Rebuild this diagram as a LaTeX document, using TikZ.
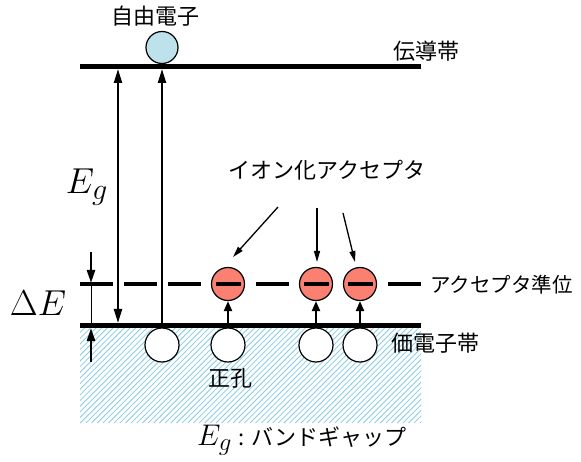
\documentclass[tikz,border=0pt]{standalone}
\usepackage{graphicx}
\usepackage{fontspec}
\newfontfamily\jp{Noto Sans CJK JP}
\usetikzlibrary{arrows.meta}
\definecolor{elec}{RGB}{190,226,236}
\definecolor{accep}{RGB}{250,128,114}
\definecolor{hatchc}{RGB}{135,205,230}
\tikzset{
  band/.style={line width=5pt},
  bigarrow/.style={line width=2.2pt,-{Triangle[length=14pt,width=8pt]}},
  labarrow/.style={line width=1.3pt,-{Triangle[length=11pt,width=6pt]}},
  holec/.style={circle,draw,line width=1.2pt,fill=white,minimum size=34pt,inner sep=0pt},
  accc/.style={circle,draw,line width=1.2pt,fill=accep,minimum size=33pt,inner sep=0pt},
  elecc/.style={circle,draw,line width=1.2pt,fill=elec,minimum size=32pt,inner sep=0pt},
  jlab/.style={font=\jp\fontsize{22pt}{24pt}\selectfont,inner sep=0pt},
  mlab/.style={font=\Huge,inner sep=0pt},
  hatchline/.style={draw=hatchc,line width=0.8pt},
}
\begin{document}
\begin{tikzpicture}[x=1pt,y=-1pt]
\useasboundingbox (0,0) rectangle (581,462);
% hatched valence region
\begin{scope}
  \clip (80,328) rectangle (421,423);
  \foreach \i in {-16,-10.34,...,425}{
    \draw[hatchline] (\i,423) -- ++(95,-95);
  }
\end{scope}
% bands
\coordinate (cbL) at (80,66.5); \coordinate (cbR) at (421,66.5);
\coordinate (vbL) at (80,325.5); \coordinate (vbR) at (421,325.5);
\coordinate (alL) at (80,284); \coordinate (alR) at (421,284);
\draw[band] (cbL) -- (cbR);
\draw[band] (vbL) -- (vbR);
\draw[line width=4pt,dash pattern=on 33pt off 11pt] (alL) -- (alR);
% free electron
\node[elecc] (e) at (162,47.5) {};
\node[jlab] (elab) at (155,16) {自由電子};
\node[jlab,anchor=west] (cblab) at (393,51) {伝導帯};
% Eg arrows
\coordinate (g1t) at (118,69); \coordinate (g1b) at (118,323);
\draw[line width=2.2pt,{Triangle[length=14pt,width=8pt]}-{Triangle[length=14pt,width=8pt]}] (g1t) -- (g1b);
\coordinate (g2t) at (162,69); \coordinate (g2b) at (162,325);
\draw[bigarrow] (g2b) -- (g2t);
\node[mlab] (eg) at (87,187) {\scalebox{1.45}{$E_g$}};
% Delta E
\coordinate (d1s) at (91,252); \coordinate (d1e) at (91,283);
\coordinate (d2s) at (91,362); \coordinate (d2e) at (91,328);
\draw[line width=2.5pt,-{Triangle[length=13pt,width=8pt]}] (d1s) -- (d1e);
\draw[line width=2.5pt,-{Triangle[length=13pt,width=8pt]}] (d2s) -- (d2e);
\draw[line width=1pt] (d1e) -- (d2e);
\node[mlab] (de) at (38,303) {\scalebox{1.45}{$\Delta E$}};
% holes
\node[holec] (h0) at (162,345) {};
\node[holec] (h1) at (228,345) {};
\node[holec] (h2) at (316,345) {};
\node[holec] (h3) at (360,345) {};
% acceptors
\foreach \n/\x in {a1/228,a2/316,a3/360}{
  \node[accc] (\n) at (\x,284) {};
  \draw[line width=4.5pt] ([xshift=-12.5pt]\n.center) -- ([xshift=12.5pt]\n.center);
  \coordinate (\n v) at (\x,323);
  \draw[line width=2.2pt,-{Triangle[length=10pt,width=8pt]}] (\n v) -- (\n.south);
}
% labels
\node[jlab] (ion) at (327,170) {イオン化アクセプタ};
\coordinate (i1) at (278,207); \coordinate (i1e) at (233,257);
\coordinate (i2) at (317,208); \coordinate (i2e) at (317,262);
\coordinate (i3) at (343,213); \coordinate (i3e) at (355,262);
\draw[labarrow] (i1) -- (i1e);
\draw[labarrow] (i2) -- (i2e);
\draw[labarrow] (i3) -- (i3e);
\node[jlab,anchor=west,font=\jp\fontsize{20.5pt}{22pt}\selectfont] (allab) at (430,285) {アクセプタ準位};
\node[jlab,anchor=west] (vblab) at (391,343) {価電子帯};
\node[jlab] (hlab) at (230,378) {正孔};
\node[mlab,anchor=west] (bg) at (197,440) {\scalebox{1.2}{$E_g$}\;{\jp\fontsize{22pt}{24pt}\selectfont :\hspace{6pt}バンドギャップ}};
\end{tikzpicture}
\end{document}
